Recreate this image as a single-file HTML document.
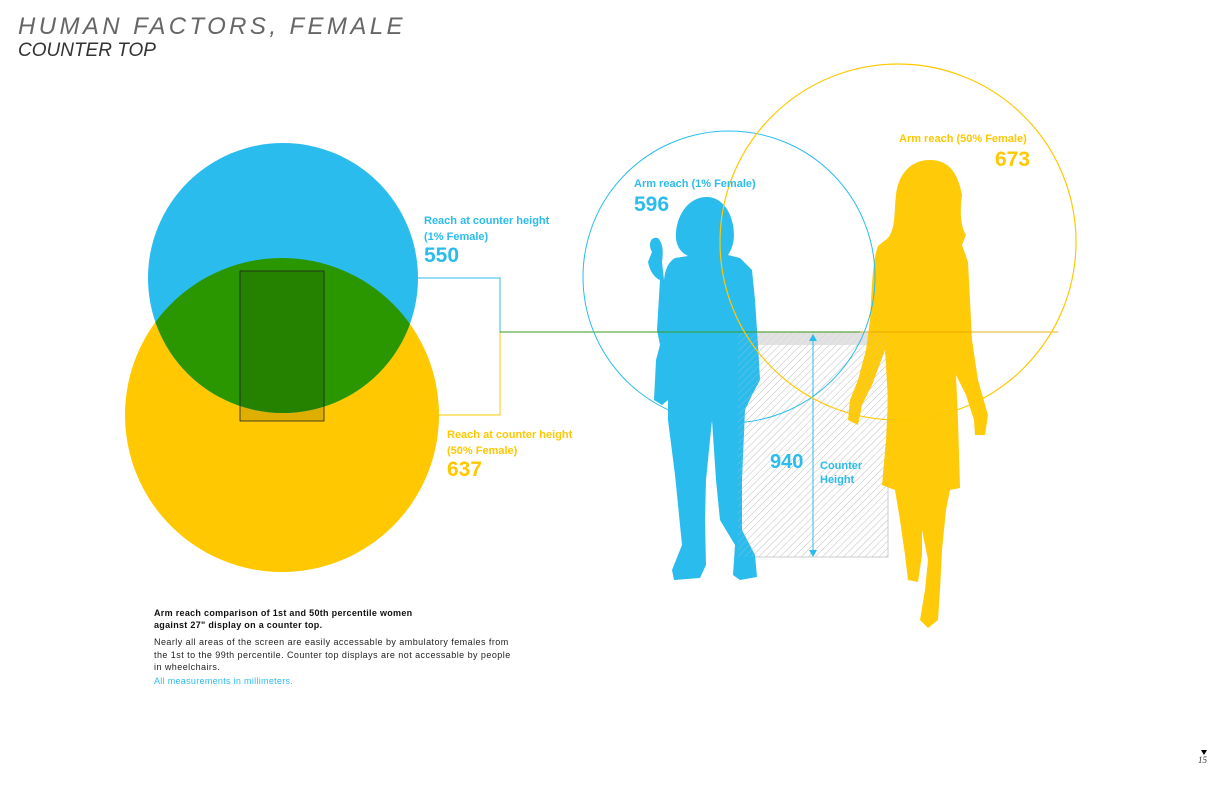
<!DOCTYPE html>
<html><head><meta charset="utf-8"><style>
html,body{margin:0;padding:0;background:#fff;}
body{width:1224px;height:792px;overflow:hidden;position:relative;font-family:"Liberation Sans",sans-serif;}
.t{position:absolute;white-space:nowrap;}
</style></head><body>
<svg width="1224" height="792" style="position:absolute;left:0;top:0">
<defs>
<pattern id="h" width="5" height="5" patternUnits="userSpaceOnUse" patternTransform="rotate(45)">
<line x1="0" y1="0" x2="0" y2="5" stroke="#c8c8c8" stroke-width="1"/></pattern>
<clipPath id="cb"><circle cx="283" cy="278" r="135"/></clipPath>
</defs>
<circle cx="282" cy="415" r="157" fill="#ffc800"/>
<circle cx="283" cy="278" r="135" fill="#2bbcee"/>
<circle cx="282" cy="415" r="157" fill="#2a9600" clip-path="url(#cb)"/>
<rect x="240" y="271" width="84" height="150" fill="#000" fill-opacity="0.13" stroke="#222" stroke-width="0.8"/>
<polyline points="418,278 500,278 500,332" fill="none" stroke="#2bbcee" stroke-width="1"/>
<polyline points="439,415 500,415 500,332" fill="none" stroke="#ffc800" stroke-width="1"/>
<!-- counter -->
<rect x="738" y="332" width="150" height="225" fill="url(#h)" stroke="#ccc" stroke-width="1"/>
<rect x="738" y="332" width="150" height="13" fill="#e2e2e2"/>
<!-- blue woman -->
<path fill="#2bbcee" d="M707,197 C690,197 678,212 676,232 C675,245 680,252 688,256 L675,258 C668,262 665,270 664,280 L662,262 C663,254 664,245 658,238 C650,236 648,245 652,252 L648,262 C650,272 655,278 660,280 L657,330 L660,345 L656,360 L654,400 L662,405 L668,400 L668,420 L675,475 L678,505 L682,545 L672,570 L674,580 L700,578 L706,565 L705,520 L706,480 L712,420 L716,480 L720,520 L735,545 L733,575 L740,580 L757,577 L755,555 L742,530 L742,480 L745,410 L752,395 L760,380 L758,345 L755,300 L752,270 L740,258 L728,255 C735,245 736,230 730,215 C725,203 716,197 707,197 Z"/>
<!-- yellow woman -->
<path fill="#ffc800" fill-opacity="0.97" d="M930,160 C910,160 898,175 896,195 C894,210 896,228 888,238 L878,246 C872,262 872,290 870,320 L866,350 L858,380 L850,400 L848,420 L858,425 L862,405 L872,385 L885,350 L888,400 L886,440 L882,485 L895,490 L900,520 L905,555 L908,580 L918,582 L922,555 L922,530 L928,560 L925,590 L920,620 L928,628 L938,620 L940,590 L942,550 L946,510 L950,490 L960,488 L958,420 L956,375 L966,395 L974,420 L975,435 L985,435 L988,415 L978,380 L972,340 L970,300 L968,262 L962,245 L966,235 C960,225 960,210 962,195 C958,172 948,160 930,160 Z"/>
<rect x="738" y="332" width="150" height="225" fill="url(#h)" opacity="0.5"/>
<line x1="500" y1="332" x2="860" y2="332" stroke="#3a9a20" stroke-width="1.2" stroke-opacity="0.8"/>
<line x1="860" y1="332" x2="1058" y2="332" stroke="#e8a800" stroke-width="1.2" stroke-opacity="0.7"/>
<line x1="813" y1="336" x2="813" y2="553" stroke="#2bbcee" stroke-width="1"/>
<path d="M809,341 L813,334 L817,341 Z M809,550 L813,557 L817,550 Z" fill="#2bbcee"/>
<circle cx="729" cy="277" r="146" fill="none" stroke="#2bbcee" stroke-width="1"/>
<circle cx="898" cy="242" r="178" fill="none" stroke="#ffc800" stroke-width="1.2"/>
<path d="M1201,750 L1207,750 L1204,755 Z" fill="#000"/>
</svg>
<div class="t" style="left:18px;top:13px;font-size:24px;font-style:italic;letter-spacing:3.4px;color:#666;">HUMAN FACTORS, FEMALE</div>
<div class="t" style="left:18px;top:40px;font-size:19px;font-style:italic;color:#333">COUNTER TOP</div>
<div class="t" style="left:424px;top:213px;font-size:11px;font-weight:bold;color:#2bbcee;line-height:16px">Reach at counter height<br>(1% Female)</div>
<div class="t" style="left:424px;top:244px;font-size:21px;font-weight:bold;color:#2bbcee">550</div>
<div class="t" style="left:447px;top:427px;font-size:11px;font-weight:bold;color:#ffc800;line-height:16px">Reach at counter height<br>(50% Female)</div>
<div class="t" style="left:447px;top:458px;font-size:21px;font-weight:bold;color:#ffc800">637</div>
<div class="t" style="left:634px;top:178px;font-size:11px;font-weight:bold;color:#2bbcee">Arm reach (1% Female)</div>
<div class="t" style="left:634px;top:193px;font-size:21px;font-weight:bold;color:#2bbcee">596</div>
<div class="t" style="left:899px;top:133px;font-size:11px;font-weight:bold;color:#ffc800">Arm reach (50% Female)</div>
<div class="t" style="left:995px;top:148px;font-size:21px;font-weight:bold;color:#ffc800">673</div>
<div class="t" style="left:770px;top:451px;font-size:20px;font-weight:bold;color:#2bbcee">940</div>
<div class="t" style="left:820px;top:459px;font-size:11px;font-weight:bold;color:#2bbcee;line-height:14px">Counter<br>Height</div>
<div class="t" style="left:154px;top:607px;font-size:9px;font-weight:bold;color:#111;line-height:12px;letter-spacing:0.3px">Arm reach comparison of 1st and 50th percentile women<br>against 27" display on a counter top.</div>
<div class="t" style="left:154px;top:636px;font-size:9px;color:#222;line-height:12.5px;letter-spacing:0.45px">Nearly all areas of the screen are easily accessable by ambulatory females from<br>the 1st to the 99th percentile. Counter top displays are not accessable by people<br>in wheelchairs.</div>
<div class="t" style="left:154px;top:676px;font-size:9px;color:#2bbcee;letter-spacing:0.3px">All measurements in millimeters.</div>
<div class="t" style="left:1198px;top:755px;font-size:9px;font-style:italic;color:#333;font-family:'Liberation Serif',serif">15</div>
</body></html>
